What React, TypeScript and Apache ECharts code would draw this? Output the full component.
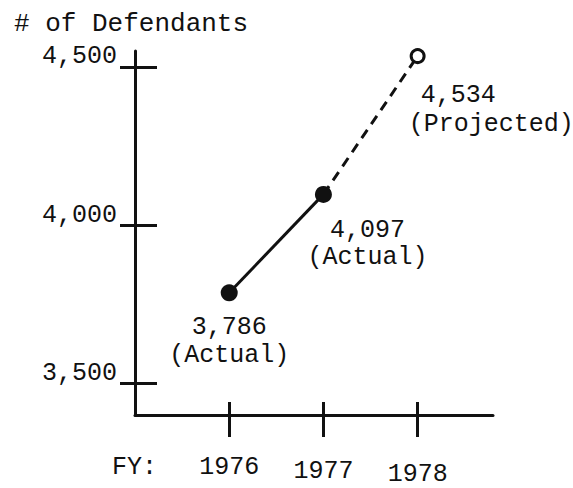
import React, { useEffect, useRef } from "react";
import * as echarts from "echarts";

// ---- data ----
const years = [1976, 1977, 1978];
const actualYears = [1976, 1977];
const actualValues = [3786, 4097];
const projectedYears = [1977, 1978];
const projectedValues = [4097, 4534];
const pointValueLabels = ["3,786", "4,097", "4,534"];
const pointStatusLabels = ["(Actual)", "(Actual)", "(Projected)"];
const yTickValues = [3500, 4000, 4500];
const yTickLabels = ["3,500", "4,000", "4,500"];
const yearLabelDrop = [0, 4, 7]; // typewriter baseline unevenness (style)

const ink = "#111111";
const font = "'Liberation Mono', 'DejaVu Sans Mono', monospace";
const fs = 25;

export default function App() {
  const ref = useRef<HTMLDivElement>(null);

  useEffect(() => {
    document.body.style.margin = "0";
    if (!ref.current) return;
    const chart = echarts.init(ref.current, undefined, { renderer: "svg" });

    const rich: Record<string, any> = {};
    years.forEach((y, i) => {
      rich["y" + y] = {
        fontFamily: font,
        fontSize: fs,
        color: ink,
        padding: [yearLabelDrop[i], 0, 0, 0],
      };
    });

    const textBase = { fontFamily: font, fontSize: fs, color: ink };

    const actualData = actualYears.map((yr, i) => ({
      value: [yr, actualValues[i]],
      label:
        i === 0
          ? {
              show: true,
              position: "bottom",
              distance: 12,
              align: "center",
              lineHeight: 28,
              ...textBase,
              formatter: pointValueLabels[0] + "\n" + pointStatusLabels[0],
            }
          : {
              show: true,
              position: "bottom",
              distance: 14,
              offset: [44, 0],
              align: "center",
              lineHeight: 27,
              ...textBase,
              formatter: pointValueLabels[1] + "\n" + pointStatusLabels[1],
            },
    }));

    const projectedData = projectedYears.map((yr, i) =>
      i === 0
        ? { value: [yr, projectedValues[i]], symbol: "none", label: { show: false } }
        : {
            value: [yr, projectedValues[i]],
            label: {
              show: true,
              position: "bottom",
              distance: 17,
              offset: [-9, 0],
              align: "left",
              lineHeight: 29,
              ...textBase,
              formatter: "{a|" + pointValueLabels[2] + "}\n{b|" + pointStatusLabels[2] + "}",
              rich: {
                a: { ...textBase, lineHeight: 29, padding: [0, 0, 0, 12] },
                b: { ...textBase, lineHeight: 29 },
              },
            },
          }
    );

    const option: any = {
      animation: false,
      backgroundColor: "#ffffff",
      title: {
        text: "# of Defendants",
        left: 9,
        top: 6,
        textStyle: { fontFamily: font, fontSize: 26, fontWeight: "normal", color: ink },
      },
      graphic: [
        {
          type: "text",
          left: 112,
          top: 455,
          style: { text: "FY:", fontFamily: font, fontSize: fs, fill: ink },
        },
      ],
      grid: { left: 135, right: 80, top: 51, bottom: 73, outerBoundsMode: "none", containLabel: false },
      xAxis: [
        {
          type: "value",
          min: 1975,
          max: 1978.8,
          position: "bottom",
          splitLine: { show: false },
          axisLine: { show: true, onZero: false, lineStyle: { color: ink, width: 3 } },
          axisTick: {
            show: true,
            inside: false,
            length: 22,
            customValues: years,
            lineStyle: { color: ink, width: 3 },
          },
          axisLabel: {
            show: true,
            margin: 40,
            customValues: years,
            verticalAlign: "top",
            fontFamily: font,
            fontSize: fs,
            color: ink,
            formatter: (v: number) => "{y" + v + "|" + v + "}",
            rich,
          },
        },
        {
          type: "value",
          min: 1975,
          max: 1978.8,
          position: "bottom",
          splitLine: { show: false },
          axisLine: { show: false, onZero: false },
          axisTick: {
            show: true,
            inside: true,
            length: 13,
            customValues: years,
            lineStyle: { color: ink, width: 3 },
          },
          axisLabel: { show: false },
        },
      ],
      yAxis: [
        {
          type: "value",
          min: 3400,
          max: 4550,
          position: "left",
          splitLine: { show: false },
          axisLine: { show: true, onZero: false, lineStyle: { color: ink, width: 3 } },
          axisTick: {
            show: true,
            inside: false,
            length: 15,
            customValues: yTickValues,
            lineStyle: { color: ink, width: 3 },
          },
          axisLabel: {
            show: true,
            margin: 18,
            customValues: yTickValues,
            verticalAlign: "bottom",
            lineHeight: 20,
            fontFamily: font,
            fontSize: fs,
            color: ink,
            formatter: (v: number) => yTickLabels[yTickValues.indexOf(v)] ?? "",
          },
        },
        {
          type: "value",
          min: 3400,
          max: 4550,
          position: "left",
          splitLine: { show: false },
          axisLine: { show: false, onZero: false },
          axisTick: {
            show: true,
            inside: true,
            length: 22,
            customValues: yTickValues,
            lineStyle: { color: ink, width: 3 },
          },
          axisLabel: { show: false },
        },
      ],
      series: [
        {
          type: "line",
          xAxisIndex: 0,
          yAxisIndex: 0,
          data: actualData,
          symbol: "circle",
          symbolSize: 17,
          lineStyle: { color: ink, width: 3, type: "solid" },
          itemStyle: { color: ink },
          z: 3,
        },
        {
          type: "line",
          xAxisIndex: 0,
          yAxisIndex: 0,
          data: projectedData,
          symbol: "circle",
          symbolSize: 13,
          lineStyle: { color: ink, width: 3, type: [10, 7] },
          itemStyle: { color: "#ffffff", borderColor: ink, borderWidth: 3 },
          z: 2,
        },
      ],
    };

    chart.setOption(option);
    return () => chart.dispose();
  }, []);

  return <div ref={ref} style={{ width: 573, height: 488 }} />;
}
